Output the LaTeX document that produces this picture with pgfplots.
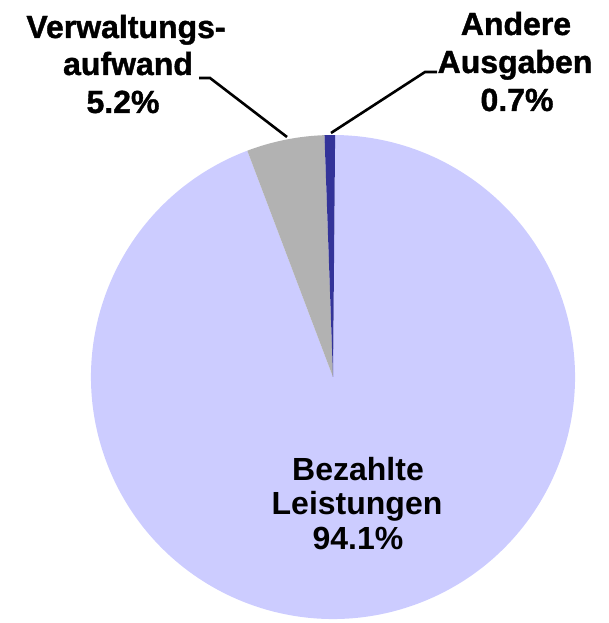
\documentclass[border=0pt]{standalone}
\usepackage{pgfplots}
\pgfplotsset{compat=1.18}
\usepackage{fontspec}
\setmainfont{Liberation Sans}
\newfontfamily\heavyfont[FakeBold=1.2]{Liberation Sans Bold}
\definecolor{lightpie}{HTML}{CCCCFF}
\definecolor{graypie}{HTML}{B2B2B2}
\definecolor{bluepie}{HTML}{333399}
\tikzset{lbl/.style={font=\fontsize{32}{38}\selectfont\bfseries,anchor=base,inner sep=0pt},
  hlbl/.style={font=\fontsize{32}{38}\selectfont\heavyfont,anchor=base,inner sep=0pt}}
\begin{document}
\begin{tikzpicture}
% shares in percent
\def\vA{0.7}  % Andere Ausgaben
\def\vB{5.2}  % Verwaltungsaufwand
\def\vC{94.1} % Bezahlte Leistungen
\pgfmathsetmacro{\aA}{89.5}
\pgfmathsetmacro{\aB}{\aA+3.6*\vA}
\pgfmathsetmacro{\aC}{\aB+3.6*\vB}
\pgfmathsetmacro{\aD}{\aC+3.6*\vC}
\def\R{242pt}
\begin{axis}[name=ax,width=608pt,height=623pt,scale only axis,
  xmin=0,xmax=608,ymin=0,ymax=623,hide axis,clip=false]
\fill[lightpie] (axis cs:333,246) -- +(\aC:\R) arc[start angle=\aC,end angle=\aD,radius=\R] -- cycle;
\fill[graypie] (axis cs:333,246) -- +(\aB:\R) arc[start angle=\aB,end angle=\aC,radius=\R] -- cycle;
\fill[bluepie] (axis cs:333,246) -- +(\aA:\R) arc[start angle=\aA,end angle=\aB,radius=\R] -- cycle;
\addplot[black,line width=2.6pt,no marks,forget plot] coordinates {(199,545) (210,545) (287,486)};
\addplot[black,line width=2.6pt,no marks,forget plot] coordinates {(437,551) (425,551) (331,490)};
\node[hlbl] at (axis cs:126,585) {Verwaltungs-};
\node[hlbl] at (axis cs:128,548) {aufwand};
\node[hlbl] at (axis cs:123,510) {5.2\%};
\node[hlbl] at (axis cs:516,588) {Andere};
\node[hlbl] at (axis cs:515,550) {Ausgaben};
\node[hlbl] at (axis cs:517,512) {0.7\%};
\node[lbl] at (axis cs:358,142) {Bezahlte};
\node[lbl] at (axis cs:357,108) {Leistungen};
\node[lbl] at (axis cs:358,73) {94.1\%};
\end{axis}
\pgfresetboundingbox
\path (ax.south west) rectangle (ax.north east);
\end{tikzpicture}
\end{document}
